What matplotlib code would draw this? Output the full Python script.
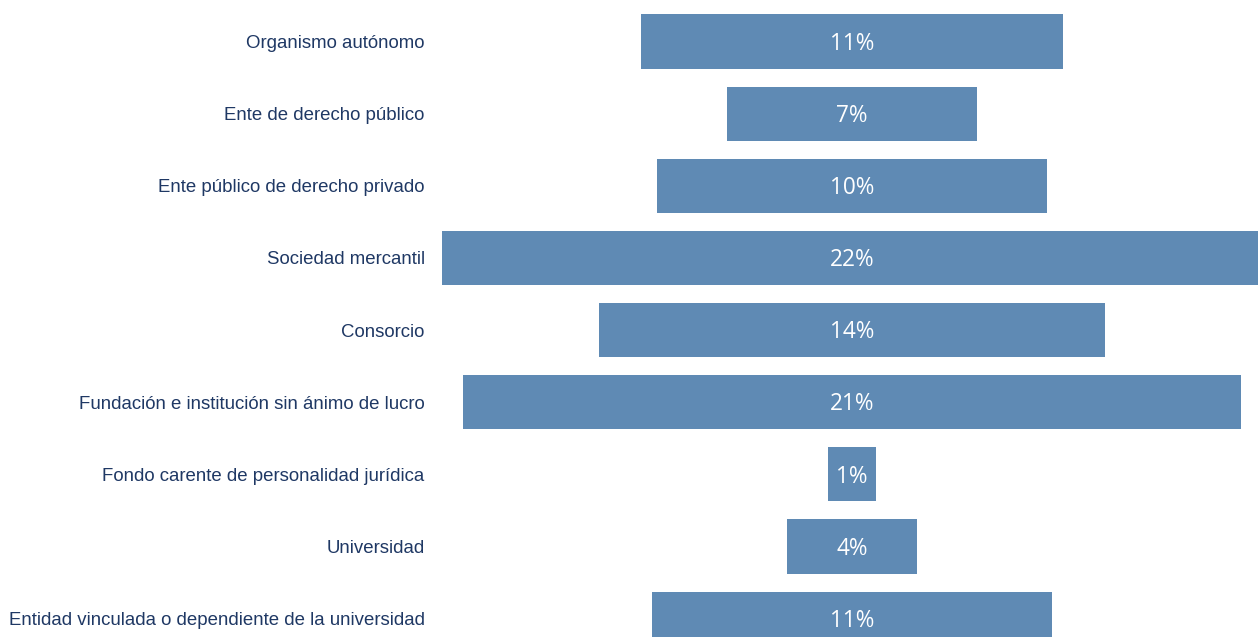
import matplotlib
matplotlib.use("Agg")
import matplotlib.pyplot as plt

# Shares (labels show the rounded value)
categories = [
    "Organismo autónomo",
    "Ente de derecho público",
    "Ente público de derecho privado",
    "Sociedad mercantil",
    "Consorcio",
    "Fundación e institución sin ánimo de lucro",
    "Fondo carente de personalidad jurídica",
    "Universidad",
    "Entidad vinculada o dependiente de la universidad",
]
shares = [11.3, 6.7, 10.45, 21.9, 13.55, 20.8, 1.3, 3.5, 10.7]

bar_color = "#5F8AB4"
text_color = "#1F3864"

fig = plt.figure(figsize=(12.58, 6.37), dpi=100)
# axes from pixel 440 to the right edge, full height
ax = fig.add_axes([440 / 1258, 0, 818 / 1258, 1])

ypos = list(range(len(categories)))
lefts = [-v / 2 for v in shares]
ax.barh(ypos, shares, left=lefts, height=0.75, color=bar_color)

for y, v in zip(ypos, shares):
    ax.text(0, y + 0.03, f"{int(v + 0.5)}%", ha="center", va="center",
            color="white", fontsize=16.3, family="Open Sans")

px = 37.4  # pixels per percentage point
ax.set_xlim(-412 / px, 406 / px)
ax.set_ylim((637 - 41.5) / 72.15, -41.5 / 72.15)

ax.set_yticks(ypos)
ax.set_yticklabels(categories, fontsize=13.45, family="Liberation Sans", color=text_color)
ax.tick_params(axis="y", length=0, pad=11)
ax.set_xticks([])
for s in ax.spines.values():
    s.set_visible(False)

fig.savefig("out.png", dpi=100)
